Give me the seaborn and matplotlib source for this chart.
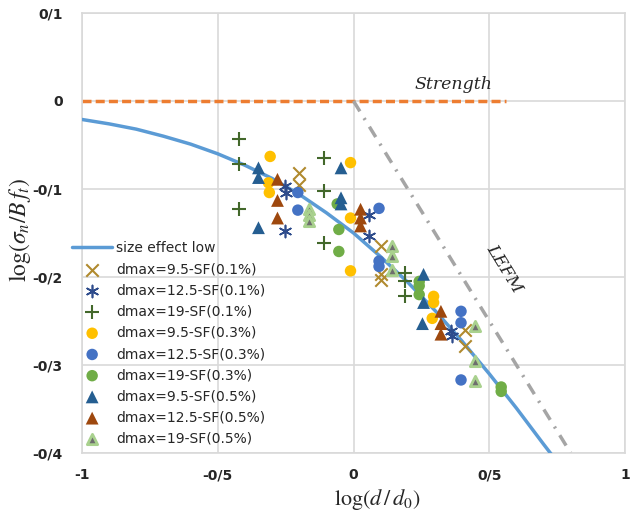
import numpy as np
import pandas as pd
import matplotlib
matplotlib.use("Agg")
import matplotlib.pyplot as plt
import seaborn as sns

# ---- data -------------------------------------------------------------
# size effect curve, log(sigma_n / B f_t) against log(d / d0)
curve_x = [-1.0, -0.9, -0.8, -0.7, -0.6, -0.5, -0.4, -0.3, -0.2, -0.1,
           0.0, 0.1, 0.2, 0.3, 0.4, 0.5, 0.6, 0.7, 0.74]
curve_y = [-0.021, -0.026, -0.032, -0.040, -0.049, -0.060, -0.073, -0.088,
           -0.106, -0.127, -0.150, -0.177, -0.206, -0.238, -0.273, -0.310,
           -0.349, -0.390, -0.406]

strength_x = [-1.0, 0.56]
strength_y = [0.0, 0.0]
lefm_x = [0.0, 0.8]
lefm_y = [0.0, -0.4]

s95_01_x = [-0.20, -0.20, 0.10, 0.10, 0.10, 0.41, 0.41]
s95_01_y = [-0.082, -0.095, -0.165, -0.197, -0.203, -0.260, -0.278]

s125_01_x = [-0.252, -0.248, -0.252, 0.056, 0.056, 0.358, 0.362]
s125_01_y = [-0.097, -0.104, -0.148, -0.129, -0.153, -0.261, -0.267]

s19_01_x = [-0.42, -0.42, -0.42, -0.11, -0.11, -0.11, 0.19, 0.19, 0.19]
s19_01_y = [-0.043, -0.072, -0.123, -0.065, -0.102, -0.161, -0.195, -0.205, -0.222]

s95_03_x = [-0.307, -0.313, -0.31, -0.011, -0.011, -0.011, 0.295, 0.295, 0.29]
s95_03_y = [-0.063, -0.093, -0.104, -0.070, -0.133, -0.193, -0.222, -0.229, -0.247]

s125_03_x = [-0.205, -0.205, 0.094, 0.094, 0.094, 0.396, 0.396, 0.396]
s125_03_y = [-0.104, -0.124, -0.122, -0.182, -0.188, -0.239, -0.252, -0.317]

s19_03_x = [-0.06, -0.054, -0.054, 0.242, 0.242, 0.242, 0.544, 0.544]
s19_03_y = [-0.117, -0.146, -0.171, -0.205, -0.210, -0.220, -0.325, -0.330]

s95_05_x = [-0.35, -0.35, -0.35, -0.046, -0.046, -0.046, 0.258, 0.258, 0.254]
s95_05_y = [-0.076, -0.087, -0.144, -0.076, -0.110, -0.117, -0.197, -0.229, -0.253]

s125_05_x = [-0.28, -0.28, -0.28, 0.026, 0.026, 0.026, 0.322, 0.322, 0.322]
s125_05_y = [-0.089, -0.113, -0.133, -0.123, -0.133, -0.142, -0.239, -0.253, -0.265]

s19_05_x = [-0.165, -0.165, -0.165, 0.143, 0.143, 0.143, 0.446, 0.446, 0.446]
s19_05_y = [-0.123, -0.130, -0.136, -0.165, -0.176, -0.192, -0.256, -0.295, -0.318]

x_ticks = [-1.0, -0.5, 0.0, 0.5, 1.0]
x_tick_labels = ["-1", "-0/5", "0", "0/5", "1"]
y_ticks = [-0.4, -0.3, -0.2, -0.1, 0.0, 0.1]
y_tick_labels = ["-0/4", "-0/3", "-0/2", "-0/1", "0", "0/1"]

# ---- styling ----------------------------------------------------------
sns.set_theme(style="white")
plt.rcParams["font.family"] = ["DejaVu Sans"]
plt.rcParams["mathtext.fontset"] = "stix"

fig = plt.figure(figsize=(6.30, 5.13), dpi=100)
ax = fig.add_axes([82 / 630, 1 - 453 / 513, 543 / 630, 440 / 513])

grid_c = "#d9d9d9"
ax.set_xlim(-1, 1)
ax.set_ylim(-0.4, 0.1)
ax.set_xticks(x_ticks)
ax.set_xticklabels(x_tick_labels)
ax.set_yticks(y_ticks)
ax.set_yticklabels(y_tick_labels)
ax.grid(True, color=grid_c, linewidth=1.2)
ax.set_axisbelow(True)
for sp in ax.spines.values():
    sp.set_color(grid_c)
    sp.set_linewidth(1.2)
ax.tick_params(axis="both", length=0, labelsize=10, colors="#262626")
ax.tick_params(axis="x", pad=11)
ax.tick_params(axis="y", pad=14)
for lab in ax.get_xticklabels() + ax.get_yticklabels():
    lab.set_fontweight("bold")

# reference lines
ax.plot(strength_x, strength_y, color="#ED7D31", lw=2.5,
        dashes=(2.6, 1.2), zorder=2)
ax.plot(lefm_x, lefm_y, color="#A5A5A5", lw=2.5,
        dashes=(3.5, 2.3, 0.6, 2.3), zorder=2)

# size effect curve
curve_df = pd.DataFrame({"x": curve_x, "y": curve_y})
sns.lineplot(data=curve_df, x="x", y="y", ax=ax, color="#5B9BD5", lw=2.5,
             label="size effect low", zorder=3)

series = [
    ("dmax=9.5-SF(0.1%)", s95_01_x, s95_01_y,
     dict(marker="x", color="#B08A2E", s=80, linewidth=1.5)),
    ("dmax=12.5-SF(0.1%)", s125_01_x, s125_01_y,
     dict(marker=(6, 2, 0), color="#2E4C8C", s=75, linewidth=1.2)),
    ("dmax=19-SF(0.1%)", s19_01_x, s19_01_y,
     dict(marker="+", color="#43682B", s=110, linewidth=1.5)),
    ("dmax=9.5-SF(0.3%)", s95_03_x, s95_03_y,
     dict(marker="o", color="#FFC000", s=68, edgecolor="none")),
    ("dmax=12.5-SF(0.3%)", s125_03_x, s125_03_y,
     dict(marker="o", color="#4472C4", s=68, edgecolor="none")),
    ("dmax=19-SF(0.3%)", s19_03_x, s19_03_y,
     dict(marker="o", color="#70AD47", s=68, edgecolor="none")),
    ("dmax=9.5-SF(0.5%)", s95_05_x, s95_05_y,
     dict(marker="^", color="#255E91", s=85, edgecolor="none")),
    ("dmax=12.5-SF(0.5%)", s125_05_x, s125_05_y,
     dict(marker="^", color="#9E480E", s=85, edgecolor="none")),
    ("dmax=19-SF(0.5%)", s19_05_x, s19_05_y,
     dict(marker="^", color="#6E6E6E", s=55, edgecolor="#A9D18E",
          linewidth=2.0)),
]
for label, xs, ys, kw in series:
    df = pd.DataFrame({"x": xs, "y": ys})
    sns.scatterplot(data=df, x="x", y="y", ax=ax, label=label, zorder=4, **kw)

# annotations
ax.text(0.37, 0.009, "Strength", fontsize=12.5, style="italic",
        family="DejaVu Serif", ha="center", va="bottom", color="#262626")
ax.text(0.555, -0.19, "LEFM", fontsize=12.5, style="italic",
        family="DejaVu Serif", ha="center", va="center", rotation=-58.5,
        color="#262626")

ax.set_xlabel("")
ax.set_ylabel("")
fig.text(377 / 630, 1 - 499 / 513, r"$\mathrm{log}(d\,/\,d_0)$", fontsize=16,
         ha="center", va="center", color="#262626")
fig.text(20 / 630, 1 - 230 / 513, r"$\mathrm{log}(\sigma_n/B\,f_t)$",
         fontsize=17, ha="center", va="center", rotation=90, color="#262626")

handles, labels = ax.get_legend_handles_labels()
leg = ax.legend(handles, labels, loc="upper left",
                bbox_to_anchor=(72 / 630, 1 - 241 / 513),
                bbox_transform=fig.transFigure, frameon=False, fontsize=10,
                handlelength=2.9, handletextpad=0.3, labelspacing=0.52,
                borderaxespad=0, borderpad=0)
for t in leg.get_texts():
    t.set_color("#262626")

fig.savefig("out.png", dpi=100, facecolor="white")
